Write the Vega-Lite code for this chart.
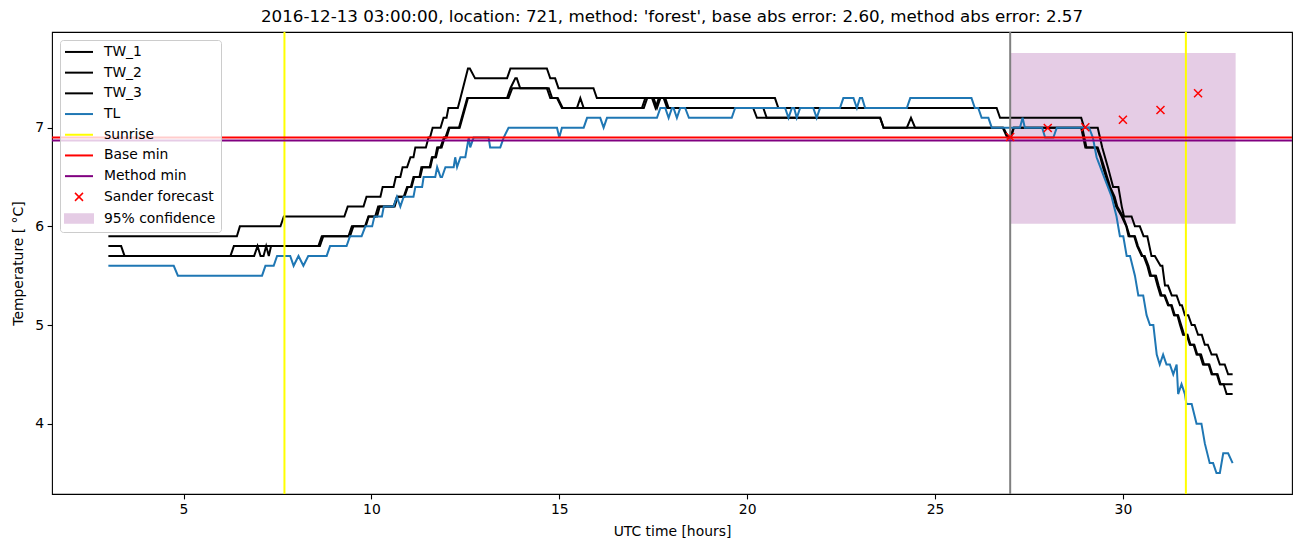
{
"$schema":"https://vega.github.io/schema/vega-lite/v6.json",
"width":1240,"height":462,
"autosize":{"type":"none"},
"padding":{"left":52,"top":32,"right":10,"bottom":53},
"background":"white",
"title":{"text":"2016-12-13 03:00:00, location: 721, method: 'forest', base abs error: 2.60, method abs error: 2.57","font":"DejaVu Sans","fontSize":16.7,"fontWeight":"normal","color":"black","offset":5},
"config":{"font":"DejaVu Sans","view":{"stroke":"black","strokeWidth":1.1},
"axis":{"labelFont":"DejaVu Sans","labelFontSize":13.9,"labelColor":"black","tickColor":"black","tickSize":4.9,"tickWidth":1.1,"domain":false,"grid":false,"titleFont":"DejaVu Sans","titleFontSize":13.9,"titleFontWeight":"normal","titleColor":"black","labelPadding":3.5,"titlePadding":5.6},
"axisX":{"titlePadding":8},"axisY":{"titlePadding":9.5}},
"datasets":{
"lines":[
{"s":"TW_1","h":3.0,"v":5.9},{"s":"TW_1","h":6.42,"v":5.9},{"s":"TW_1","h":6.5,"v":6.0},{"s":"TW_1","h":7.58,"v":6.0},{"s":"TW_1","h":7.67,"v":6.1},{"s":"TW_1","h":9.28,"v":6.1},{"s":"TW_1","h":9.37,"v":6.2},{"s":"TW_1","h":9.79,"v":6.2},{"s":"TW_1","h":9.87,"v":6.3},{"s":"TW_1","h":10.24,"v":6.3},{"s":"TW_1","h":10.3,"v":6.4},{"s":"TW_1","h":10.59,"v":6.4},{"s":"TW_1","h":10.65,"v":6.5},{"s":"TW_1","h":10.77,"v":6.5},{"s":"TW_1","h":10.83,"v":6.6},{"s":"TW_1","h":10.95,"v":6.6},{"s":"TW_1","h":11.04,"v":6.7},{"s":"TW_1","h":11.12,"v":6.7},{"s":"TW_1","h":11.17,"v":6.8},{"s":"TW_1","h":11.45,"v":6.8},{"s":"TW_1","h":11.52,"v":6.9},{"s":"TW_1","h":11.56,"v":6.9},{"s":"TW_1","h":11.63,"v":7.0},{"s":"TW_1","h":11.84,"v":7.0},{"s":"TW_1","h":11.92,"v":7.1},{"s":"TW_1","h":12.0,"v":7.1},{"s":"TW_1","h":12.05,"v":7.2},{"s":"TW_1","h":12.3,"v":7.2},{"s":"TW_1","h":12.37,"v":7.3},{"s":"TW_1","h":12.57,"v":7.6},{"s":"TW_1","h":12.62,"v":7.6},{"s":"TW_1","h":12.76,"v":7.5},{"s":"TW_1","h":13.61,"v":7.5},{"s":"TW_1","h":13.7,"v":7.6},{"s":"TW_1","h":14.67,"v":7.6},{"s":"TW_1","h":14.76,"v":7.5},{"s":"TW_1","h":14.89,"v":7.5},{"s":"TW_1","h":14.98,"v":7.4},{"s":"TW_1","h":15.91,"v":7.4},{"s":"TW_1","h":16.0,"v":7.3},{"s":"TW_1","h":20.74,"v":7.3},{"s":"TW_1","h":20.83,"v":7.2},{"s":"TW_1","h":26.64,"v":7.2},{"s":"TW_1","h":26.73,"v":7.1},{"s":"TW_1","h":28.89,"v":7.1},{"s":"TW_1","h":28.97,"v":7.0},{"s":"TW_1","h":29.33,"v":7.0},{"s":"TW_1","h":29.45,"v":6.8},{"s":"TW_1","h":29.6,"v":6.6},{"s":"TW_1","h":29.74,"v":6.4},{"s":"TW_1","h":29.88,"v":6.4},{"s":"TW_1","h":29.97,"v":6.2},{"s":"TW_1","h":30.03,"v":6.1},{"s":"TW_1","h":30.23,"v":6.1},{"s":"TW_1","h":30.32,"v":6.0},{"s":"TW_1","h":30.45,"v":6.0},{"s":"TW_1","h":30.55,"v":5.9},{"s":"TW_1","h":30.65,"v":5.9},{"s":"TW_1","h":30.76,"v":5.7},{"s":"TW_1","h":30.85,"v":5.7},{"s":"TW_1","h":31.0,"v":5.6},{"s":"TW_1","h":31.05,"v":5.6},{"s":"TW_1","h":31.12,"v":5.4},{"s":"TW_1","h":31.2,"v":5.4},{"s":"TW_1","h":31.3,"v":5.3},{"s":"TW_1","h":31.43,"v":5.3},{"s":"TW_1","h":31.52,"v":5.2},{"s":"TW_1","h":31.57,"v":5.2},{"s":"TW_1","h":31.65,"v":5.1},{"s":"TW_1","h":31.74,"v":5.1},{"s":"TW_1","h":31.83,"v":5.0},{"s":"TW_1","h":31.91,"v":5.0},{"s":"TW_1","h":32.0,"v":4.9},{"s":"TW_1","h":32.1,"v":4.9},{"s":"TW_1","h":32.18,"v":4.8},{"s":"TW_1","h":32.26,"v":4.8},{"s":"TW_1","h":32.36,"v":4.7},{"s":"TW_1","h":32.49,"v":4.7},{"s":"TW_1","h":32.58,"v":4.6},{"s":"TW_1","h":32.71,"v":4.6},{"s":"TW_1","h":32.8,"v":4.5},{"s":"TW_1","h":32.92,"v":4.5},
{"s":"TW_2","h":3.0,"v":5.8},{"s":"TW_2","h":3.34,"v":5.8},{"s":"TW_2","h":3.43,"v":5.7},{"s":"TW_2","h":6.25,"v":5.7},{"s":"TW_2","h":6.34,"v":5.8},{"s":"TW_2","h":8.63,"v":5.8},{"s":"TW_2","h":8.72,"v":5.9},{"s":"TW_2","h":9.43,"v":5.9},{"s":"TW_2","h":9.52,"v":6.0},{"s":"TW_2","h":9.83,"v":6.0},{"s":"TW_2","h":9.92,"v":6.1},{"s":"TW_2","h":10.15,"v":6.1},{"s":"TW_2","h":10.22,"v":6.2},{"s":"TW_2","h":10.59,"v":6.2},{"s":"TW_2","h":10.68,"v":6.3},{"s":"TW_2","h":10.86,"v":6.3},{"s":"TW_2","h":10.95,"v":6.4},{"s":"TW_2","h":11.05,"v":6.4},{"s":"TW_2","h":11.12,"v":6.5},{"s":"TW_2","h":11.28,"v":6.5},{"s":"TW_2","h":11.33,"v":6.6},{"s":"TW_2","h":11.55,"v":6.6},{"s":"TW_2","h":11.61,"v":6.7},{"s":"TW_2","h":11.7,"v":6.7},{"s":"TW_2","h":11.75,"v":6.8},{"s":"TW_2","h":11.84,"v":6.8},{"s":"TW_2","h":11.93,"v":6.9},{"s":"TW_2","h":11.97,"v":6.9},{"s":"TW_2","h":12.06,"v":7.0},{"s":"TW_2","h":12.33,"v":7.0},{"s":"TW_2","h":12.55,"v":7.3},{"s":"TW_2","h":13.61,"v":7.3},{"s":"TW_2","h":13.7,"v":7.4},{"s":"TW_2","h":13.83,"v":7.5},{"s":"TW_2","h":13.87,"v":7.5},{"s":"TW_2","h":13.96,"v":7.4},{"s":"TW_2","h":14.67,"v":7.4},{"s":"TW_2","h":14.76,"v":7.3},{"s":"TW_2","h":14.94,"v":7.3},{"s":"TW_2","h":15.07,"v":7.2},{"s":"TW_2","h":15.47,"v":7.2},{"s":"TW_2","h":15.56,"v":7.3},{"s":"TW_2","h":15.65,"v":7.2},{"s":"TW_2","h":17.2,"v":7.2},{"s":"TW_2","h":17.29,"v":7.3},{"s":"TW_2","h":17.51,"v":7.3},{"s":"TW_2","h":17.6,"v":7.2},{"s":"TW_2","h":17.69,"v":7.3},{"s":"TW_2","h":17.82,"v":7.3},{"s":"TW_2","h":17.91,"v":7.2},{"s":"TW_2","h":20.16,"v":7.2},{"s":"TW_2","h":20.26,"v":7.1},{"s":"TW_2","h":23.54,"v":7.1},{"s":"TW_2","h":23.63,"v":7.0},{"s":"TW_2","h":24.25,"v":7.0},{"s":"TW_2","h":24.36,"v":7.1},{"s":"TW_2","h":24.47,"v":7.0},{"s":"TW_2","h":26.8,"v":7.0},{"s":"TW_2","h":26.92,"v":6.9},{"s":"TW_2","h":27.02,"v":6.9},{"s":"TW_2","h":27.1,"v":7.0},{"s":"TW_2","h":28.89,"v":7.0},{"s":"TW_2","h":29.0,"v":6.8},{"s":"TW_2","h":29.3,"v":6.8},{"s":"TW_2","h":29.4,"v":6.7},{"s":"TW_2","h":29.47,"v":6.6},{"s":"TW_2","h":29.55,"v":6.5},{"s":"TW_2","h":29.62,"v":6.4},{"s":"TW_2","h":29.74,"v":6.3},{"s":"TW_2","h":29.82,"v":6.2},{"s":"TW_2","h":29.97,"v":6.1},{"s":"TW_2","h":30.09,"v":6.0},{"s":"TW_2","h":30.15,"v":5.9},{"s":"TW_2","h":30.3,"v":5.9},{"s":"TW_2","h":30.38,"v":5.8},{"s":"TW_2","h":30.5,"v":5.7},{"s":"TW_2","h":30.55,"v":5.7},{"s":"TW_2","h":30.65,"v":5.6},{"s":"TW_2","h":30.72,"v":5.5},{"s":"TW_2","h":30.85,"v":5.5},{"s":"TW_2","h":30.92,"v":5.4},{"s":"TW_2","h":31.0,"v":5.3},{"s":"TW_2","h":31.1,"v":5.3},{"s":"TW_2","h":31.2,"v":5.2},{"s":"TW_2","h":31.28,"v":5.2},{"s":"TW_2","h":31.36,"v":5.1},{"s":"TW_2","h":31.45,"v":5.1},{"s":"TW_2","h":31.52,"v":5.0},{"s":"TW_2","h":31.6,"v":4.9},{"s":"TW_2","h":31.7,"v":4.9},{"s":"TW_2","h":31.78,"v":4.8},{"s":"TW_2","h":31.88,"v":4.8},{"s":"TW_2","h":31.96,"v":4.7},{"s":"TW_2","h":32.05,"v":4.7},{"s":"TW_2","h":32.13,"v":4.6},{"s":"TW_2","h":32.28,"v":4.6},{"s":"TW_2","h":32.36,"v":4.5},{"s":"TW_2","h":32.5,"v":4.5},{"s":"TW_2","h":32.58,"v":4.4},{"s":"TW_2","h":32.92,"v":4.4},
{"s":"TW_3","h":3.0,"v":5.7},{"s":"TW_3","h":6.88,"v":5.7},{"s":"TW_3","h":6.97,"v":5.8},{"s":"TW_3","h":7.05,"v":5.7},{"s":"TW_3","h":7.13,"v":5.7},{"s":"TW_3","h":7.2,"v":5.8},{"s":"TW_3","h":7.27,"v":5.7},{"s":"TW_3","h":7.33,"v":5.8},{"s":"TW_3","h":8.59,"v":5.8},{"s":"TW_3","h":8.68,"v":5.9},{"s":"TW_3","h":9.39,"v":5.9},{"s":"TW_3","h":9.48,"v":6.0},{"s":"TW_3","h":9.85,"v":6.0},{"s":"TW_3","h":9.93,"v":6.1},{"s":"TW_3","h":10.1,"v":6.1},{"s":"TW_3","h":10.18,"v":6.2},{"s":"TW_3","h":10.62,"v":6.2},{"s":"TW_3","h":10.7,"v":6.3},{"s":"TW_3","h":10.88,"v":6.3},{"s":"TW_3","h":10.97,"v":6.4},{"s":"TW_3","h":11.07,"v":6.4},{"s":"TW_3","h":11.14,"v":6.5},{"s":"TW_3","h":11.3,"v":6.5},{"s":"TW_3","h":11.36,"v":6.6},{"s":"TW_3","h":11.57,"v":6.6},{"s":"TW_3","h":11.63,"v":6.7},{"s":"TW_3","h":11.72,"v":6.7},{"s":"TW_3","h":11.78,"v":6.8},{"s":"TW_3","h":11.87,"v":6.8},{"s":"TW_3","h":11.95,"v":6.9},{"s":"TW_3","h":12.0,"v":6.9},{"s":"TW_3","h":12.08,"v":7.0},{"s":"TW_3","h":12.35,"v":7.0},{"s":"TW_3","h":12.57,"v":7.3},{"s":"TW_3","h":13.65,"v":7.3},{"s":"TW_3","h":13.75,"v":7.4},{"s":"TW_3","h":14.72,"v":7.4},{"s":"TW_3","h":14.81,"v":7.3},{"s":"TW_3","h":14.96,"v":7.3},{"s":"TW_3","h":15.09,"v":7.2},{"s":"TW_3","h":17.25,"v":7.2},{"s":"TW_3","h":17.34,"v":7.3},{"s":"TW_3","h":17.47,"v":7.3},{"s":"TW_3","h":17.56,"v":7.2},{"s":"TW_3","h":17.65,"v":7.3},{"s":"TW_3","h":17.78,"v":7.3},{"s":"TW_3","h":17.87,"v":7.2},{"s":"TW_3","h":20.43,"v":7.2},{"s":"TW_3","h":20.52,"v":7.1},{"s":"TW_3","h":23.54,"v":7.1},{"s":"TW_3","h":23.63,"v":7.0},{"s":"TW_3","h":26.82,"v":7.0},{"s":"TW_3","h":26.95,"v":6.9},{"s":"TW_3","h":27.0,"v":6.9},{"s":"TW_3","h":27.09,"v":7.0},{"s":"TW_3","h":28.92,"v":7.0},{"s":"TW_3","h":29.03,"v":6.8},{"s":"TW_3","h":29.33,"v":6.8},{"s":"TW_3","h":29.42,"v":6.7},{"s":"TW_3","h":29.5,"v":6.6},{"s":"TW_3","h":29.58,"v":6.5},{"s":"TW_3","h":29.66,"v":6.4},{"s":"TW_3","h":29.78,"v":6.3},{"s":"TW_3","h":29.85,"v":6.2},{"s":"TW_3","h":30.0,"v":6.1},{"s":"TW_3","h":30.1,"v":6.0},{"s":"TW_3","h":30.18,"v":5.9},{"s":"TW_3","h":30.32,"v":5.9},{"s":"TW_3","h":30.4,"v":5.8},{"s":"TW_3","h":30.52,"v":5.7},{"s":"TW_3","h":30.58,"v":5.7},{"s":"TW_3","h":30.68,"v":5.6},{"s":"TW_3","h":30.75,"v":5.5},{"s":"TW_3","h":30.88,"v":5.5},{"s":"TW_3","h":30.95,"v":5.4},{"s":"TW_3","h":31.03,"v":5.3},{"s":"TW_3","h":31.12,"v":5.3},{"s":"TW_3","h":31.22,"v":5.2},{"s":"TW_3","h":31.3,"v":5.2},{"s":"TW_3","h":31.38,"v":5.1},{"s":"TW_3","h":31.47,"v":5.1},{"s":"TW_3","h":31.55,"v":5.0},{"s":"TW_3","h":31.63,"v":4.9},{"s":"TW_3","h":31.72,"v":4.9},{"s":"TW_3","h":31.8,"v":4.8},{"s":"TW_3","h":31.9,"v":4.8},{"s":"TW_3","h":31.98,"v":4.7},{"s":"TW_3","h":32.08,"v":4.7},{"s":"TW_3","h":32.16,"v":4.6},{"s":"TW_3","h":32.3,"v":4.6},{"s":"TW_3","h":32.38,"v":4.5},{"s":"TW_3","h":32.52,"v":4.5},{"s":"TW_3","h":32.6,"v":4.4},{"s":"TW_3","h":32.68,"v":4.4},{"s":"TW_3","h":32.76,"v":4.3},{"s":"TW_3","h":32.92,"v":4.3},
{"s":"TL","h":3.0,"v":5.6},{"s":"TL","h":4.74,"v":5.6},{"s":"TL","h":4.85,"v":5.5},{"s":"TL","h":7.09,"v":5.5},{"s":"TL","h":7.18,"v":5.6},{"s":"TL","h":7.4,"v":5.6},{"s":"TL","h":7.49,"v":5.7},{"s":"TL","h":7.84,"v":5.7},{"s":"TL","h":7.93,"v":5.6},{"s":"TL","h":8.06,"v":5.7},{"s":"TL","h":8.19,"v":5.6},{"s":"TL","h":8.32,"v":5.7},{"s":"TL","h":8.81,"v":5.7},{"s":"TL","h":8.9,"v":5.8},{"s":"TL","h":9.34,"v":5.8},{"s":"TL","h":9.43,"v":5.9},{"s":"TL","h":9.74,"v":5.9},{"s":"TL","h":9.84,"v":6.0},{"s":"TL","h":10.02,"v":6.0},{"s":"TL","h":10.08,"v":6.1},{"s":"TL","h":10.28,"v":6.1},{"s":"TL","h":10.33,"v":6.2},{"s":"TL","h":10.59,"v":6.2},{"s":"TL","h":10.68,"v":6.3},{"s":"TL","h":10.77,"v":6.2},{"s":"TL","h":10.86,"v":6.3},{"s":"TL","h":11.12,"v":6.3},{"s":"TL","h":11.17,"v":6.4},{"s":"TL","h":11.35,"v":6.4},{"s":"TL","h":11.39,"v":6.5},{"s":"TL","h":11.7,"v":6.5},{"s":"TL","h":11.75,"v":6.6},{"s":"TL","h":11.84,"v":6.5},{"s":"TL","h":11.88,"v":6.5},{"s":"TL","h":11.97,"v":6.6},{"s":"TL","h":12.19,"v":6.6},{"s":"TL","h":12.23,"v":6.7},{"s":"TL","h":12.28,"v":6.6},{"s":"TL","h":12.37,"v":6.7},{"s":"TL","h":12.5,"v":6.7},{"s":"TL","h":12.59,"v":6.9},{"s":"TL","h":12.63,"v":6.8},{"s":"TL","h":12.72,"v":6.9},{"s":"TL","h":13.12,"v":6.9},{"s":"TL","h":13.16,"v":6.8},{"s":"TL","h":13.43,"v":6.8},{"s":"TL","h":13.52,"v":6.9},{"s":"TL","h":13.65,"v":7.0},{"s":"TL","h":14.94,"v":7.0},{"s":"TL","h":15.0,"v":6.9},{"s":"TL","h":15.07,"v":7.0},{"s":"TL","h":15.65,"v":7.0},{"s":"TL","h":15.74,"v":7.1},{"s":"TL","h":16.09,"v":7.1},{"s":"TL","h":16.18,"v":7.0},{"s":"TL","h":16.27,"v":7.1},{"s":"TL","h":17.6,"v":7.1},{"s":"TL","h":17.69,"v":7.2},{"s":"TL","h":17.82,"v":7.2},{"s":"TL","h":17.91,"v":7.1},{"s":"TL","h":18.0,"v":7.2},{"s":"TL","h":18.04,"v":7.2},{"s":"TL","h":18.13,"v":7.1},{"s":"TL","h":18.22,"v":7.2},{"s":"TL","h":18.35,"v":7.2},{"s":"TL","h":18.45,"v":7.1},{"s":"TL","h":19.59,"v":7.1},{"s":"TL","h":19.68,"v":7.2},{"s":"TL","h":21.01,"v":7.2},{"s":"TL","h":21.1,"v":7.1},{"s":"TL","h":21.19,"v":7.2},{"s":"TL","h":21.25,"v":7.2},{"s":"TL","h":21.32,"v":7.1},{"s":"TL","h":21.41,"v":7.2},{"s":"TL","h":21.76,"v":7.2},{"s":"TL","h":21.85,"v":7.1},{"s":"TL","h":21.94,"v":7.2},{"s":"TL","h":22.47,"v":7.2},{"s":"TL","h":22.56,"v":7.3},{"s":"TL","h":22.83,"v":7.3},{"s":"TL","h":22.92,"v":7.2},{"s":"TL","h":23.0,"v":7.3},{"s":"TL","h":23.06,"v":7.3},{"s":"TL","h":23.14,"v":7.2},{"s":"TL","h":24.25,"v":7.2},{"s":"TL","h":24.34,"v":7.3},{"s":"TL","h":25.97,"v":7.3},{"s":"TL","h":26.06,"v":7.2},{"s":"TL","h":26.15,"v":7.2},{"s":"TL","h":26.24,"v":7.1},{"s":"TL","h":26.42,"v":7.1},{"s":"TL","h":26.51,"v":7.0},{"s":"TL","h":27.26,"v":7.0},{"s":"TL","h":27.33,"v":7.1},{"s":"TL","h":27.39,"v":7.0},{"s":"TL","h":27.85,"v":7.0},{"s":"TL","h":27.93,"v":6.9},{"s":"TL","h":28.15,"v":6.9},{"s":"TL","h":28.24,"v":7.0},{"s":"TL","h":29.1,"v":7.0},{"s":"TL","h":29.2,"v":6.9},{"s":"TL","h":29.3,"v":6.7},{"s":"TL","h":29.4,"v":6.6},{"s":"TL","h":29.5,"v":6.5},{"s":"TL","h":29.6,"v":6.4},{"s":"TL","h":29.7,"v":6.3},{"s":"TL","h":29.83,"v":6.1},{"s":"TL","h":29.92,"v":5.9},{"s":"TL","h":30.01,"v":5.9},{"s":"TL","h":30.1,"v":5.7},{"s":"TL","h":30.19,"v":5.7},{"s":"TL","h":30.32,"v":5.5},{"s":"TL","h":30.41,"v":5.3},{"s":"TL","h":30.54,"v":5.3},{"s":"TL","h":30.63,"v":5.1},{"s":"TL","h":30.72,"v":5.0},{"s":"TL","h":30.81,"v":5.0},{"s":"TL","h":30.9,"v":4.7},{"s":"TL","h":30.98,"v":4.6},{"s":"TL","h":31.07,"v":4.7},{"s":"TL","h":31.16,"v":4.6},{"s":"TL","h":31.25,"v":4.6},{"s":"TL","h":31.34,"v":4.5},{"s":"TL","h":31.43,"v":4.6},{"s":"TL","h":31.47,"v":4.3},{"s":"TL","h":31.56,"v":4.4},{"s":"TL","h":31.65,"v":4.3},{"s":"TL","h":31.69,"v":4.2},{"s":"TL","h":31.83,"v":4.2},{"s":"TL","h":31.96,"v":4.0},{"s":"TL","h":32.09,"v":4.0},{"s":"TL","h":32.18,"v":3.8},{"s":"TL","h":32.31,"v":3.6},{"s":"TL","h":32.4,"v":3.6},{"s":"TL","h":32.49,"v":3.5},{"s":"TL","h":32.58,"v":3.5},{"s":"TL","h":32.67,"v":3.7},{"s":"TL","h":32.8,"v":3.7},{"s":"TL","h":32.92,"v":3.6}
],
"conf":[{"s":"95% confidence","x0":27,"x1":33,"y0":6.027,"y1":7.757}],
"sunrise":[{"s":"sunrise","h":7.686},{"s":"sunrise","h":31.676}],
"now":[{"h":27.0}],
"mins":[{"s":"Base min","v":6.9},{"s":"Method min","v":6.87}],
"fc":[{"s":"Sander forecast","h":27,"v":6.905},{"s":"Sander forecast","h":28,"v":6.997},{"s":"Sander forecast","h":29,"v":7.005},{"s":"Sander forecast","h":30,"v":7.08},{"s":"Sander forecast","h":31,"v":7.18},{"s":"Sander forecast","h":32,"v":7.35}]
},
"layer":[
{"data":{"name":"conf"},"mark":{"type":"rect"},
 "encoding":{"x":{"field":"x0","type":"quantitative","scale":{"domain":[1.5,34.5],"nice":false,"zero":false},"axis":{"values":[5,10,15,20,25,30],"format":"d","title":"UTC time [hours]"}},
 "x2":{"field":"x1"},
 "y":{"field":"y0","type":"quantitative","scale":{"domain":[3.287,7.97],"nice":false,"zero":false},"axis":{"values":[4,5,6,7],"format":"d","title":"Temperature [ °C]"}},
 "y2":{"field":"y1"},
 "color":{"field":"s","type":"nominal"}}},
{"data":{"name":"lines"},"mark":{"type":"line","strokeWidth":2},
 "encoding":{"x":{"field":"h","type":"quantitative"},"y":{"field":"v","type":"quantitative"},
 "color":{"field":"s","type":"nominal",
  "scale":{"domain":["TW_1","TW_2","TW_3","TL","sunrise","Base min","Method min","Sander forecast","95% confidence"],"range":["black","black","black","#1f77b4","#ffff00","#ff0000","#800080","#ff0000","#e5cce5"]},
  "legend":{"title":null,"orient":"top-left","offset":8,"padding":5,"fillColor":"rgba(255,255,255,0.8)","strokeColor":"#cccccc","cornerRadius":3,"labelFont":"DejaVu Sans","labelFontSize":13.9,"labelColor":"black","symbolSize":100,"symbolType":"stroke","labelOffset":25,"rowPadding":5.7,"symbolStrokeWidth":2,
   "encode":{"symbols":{"update":{
     "shape":{"signal":"datum.value === 'Sander forecast' ? 'M-1,-1L1,1M-1,1L1,-1' : datum.value === '95% confidence' ? 'M-1,-0.3H1V0.3H-1Z' : 'stroke'"},
     "size":{"signal":"datum.value === 'Sander forecast' ? 64 : 784"},
     "fill":{"signal":"datum.value === '95% confidence' ? '#e5cce5' : 'transparent'"},
     "stroke":{"signal":"datum.value === '95% confidence' ? 'transparent' : scale('color', datum.value)"},
     "strokeWidth":{"signal":"datum.value === 'Sander forecast' ? 1.5 : 2"},
     "opacity":{"value":1},
     "x":{"value":14}}}}}}}},
{"data":{"name":"sunrise"},"mark":{"type":"rule","strokeWidth":2},
 "encoding":{"x":{"field":"h","type":"quantitative"},"color":{"field":"s","type":"nominal"}}},
{"data":{"name":"now"},"mark":{"type":"rule","strokeWidth":2,"color":"#808080"},
 "encoding":{"x":{"field":"h","type":"quantitative"}}},
{"data":{"name":"mins"},"mark":{"type":"rule","strokeWidth":2},
 "encoding":{"y":{"field":"v","type":"quantitative"},"color":{"field":"s","type":"nominal"}}},
{"data":{"name":"fc"},"mark":{"type":"point","shape":"M-1,-1L1,1M-1,1L1,-1","filled":false,"strokeWidth":1.5,"size":64,"opacity":1},
 "encoding":{"x":{"field":"h","type":"quantitative"},"y":{"field":"v","type":"quantitative"},"color":{"field":"s","type":"nominal"}}}
]
}
